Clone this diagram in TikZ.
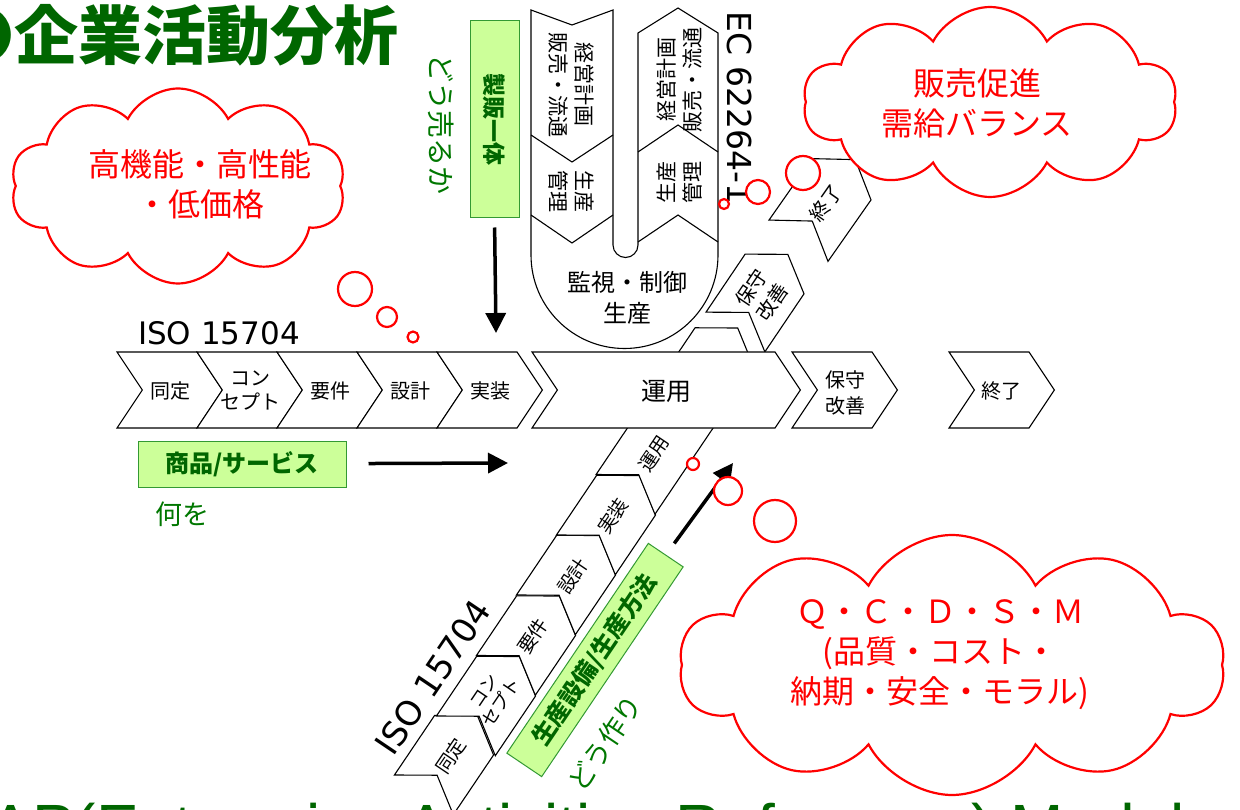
\documentclass[tikz,border=0pt]{standalone}
\usepackage{fontspec}
\setmainfont{Noto Sans CJK JP}
\newfontfamily\dejavu{DejaVu Sans}
\newfontfamily\arialf{Liberation Sans}
\usetikzlibrary{shapes.symbols,arrows.meta}
\definecolor{dkgreen}{HTML}{006600}
\definecolor{txtgreen}{HTML}{007700}
\definecolor{boxfill}{HTML}{CCFF99}
\definecolor{boxedge}{HTML}{339933}
\definecolor{cloudred}{HTML}{FF0000}
\newcommand\fsz[2]{\fontsize{#1pt}{#2pt}\selectfont}
% chevron: cx, cy, angle, L, H
\newcommand\chevshape[5]{%
  \begin{scope}[shift={(#1,#2)},rotate=#3]
    \path[chevline] (-#4/2,-#5/2) -- (#4/2,-#5/2) -- (#4/2+#5/3,0) -- (#4/2,#5/2) -- (-#4/2,#5/2) -- (-#4/2+#5/3,0) -- cycle;
  \end{scope}}
\begin{document}
\begin{tikzpicture}[x=1pt,y=-1pt,
  chevline/.style={draw=black, line width=1.1pt, fill=white},
  chevtext/.style={font=\fsz{20}{25}, align=center, inner sep=0},
  smalltext/.style={font=\fsz{19}{22}, align=center, inner sep=0},
  utext/.style={font=\fsz{21}{26}, align=center, inner sep=0},
  greenbox/.style={draw=boxedge, fill=boxfill, line width=1pt, text=dkgreen, inner sep=0},
  greenword/.style={text=txtgreen, inner sep=0},
  bigarrow/.style={line width=3.5pt, -{Triangle[length=20pt,width=20pt]}},
  cloudshape/.style={cloud, cloud puffs=10, cloud puff arc=125, cloud ignores aspect, draw=cloudred, line width=2.2pt, fill=white, inner sep=0},
  cloudtext/.style={text=cloudred, font=\fsz{32}{40}, align=center, inner sep=0},
  bubble/.style={circle, draw=cloudred, line width=2.2pt, fill=white, inner sep=0}]
\useasboundingbox (0,0) rectangle (1240,810);
\clip (0,0) rectangle (1240,810);

% ---- rotated ISO 15704 chain (behind main bar)
\chevshape{444}{765}{56}{72}{71}
\chevshape{486}{706}{56}{72}{71}
\chevshape{526}{645.5}{56}{72}{71}
\chevshape{566}{585}{56}{72}{71}
\chevshape{606}{525}{56}{72}{71}
\chevshape{675}{421}{56}{177}{71}
\node[smalltext, rotate=56] (r1) at (451,756) {同定};
\node[smalltext, rotate=56, font=\fsz{18}{21}] (r2) at (493,697) {コン\\セプト};
\node[smalltext, rotate=56] (r3) at (533,636) {要件};
\node[smalltext, rotate=56] (r4) at (573,576) {設計};
\node[smalltext, rotate=56] (r5) at (613,516) {実装};
\node[smalltext, rotate=56] (r6) at (654,454) {運用};
\node[font=\dejavu\fsz{34}{40}, rotate=56, inner sep=0] (iso2) at (433,677) {ISO 15704};

% ---- rotated maintenance / end
\chevshape{755}{303}{56}{70}{71}
\node[chevtext, rotate=56] (rm) at (762,295) {保守\\改善};
\chevshape{820}{210}{55}{75}{72}
\node[chevtext, rotate=55] (re) at (826,203) {終了};

% ---- main horizontal chain
\chevshape{157}{390}{0}{80}{76}
\chevshape{237}{390}{0}{80}{76}
\chevshape{317}{390}{0}{80}{76}
\chevshape{397}{390}{0}{80}{76}
\chevshape{477}{390}{0}{80}{76}
\chevshape{653.5}{390}{0}{243}{76}
\chevshape{832}{390}{0}{80}{76}
\chevshape{989}{390}{0}{80}{76}
\node[chevtext] (m1) at (170,391) {同定};
\node[chevtext, font=\fsz{20}{24}] (m2) at (250,391) {コン\\セプト};
\node[chevtext] (m3) at (330,391) {要件};
\node[chevtext] (m4) at (410,391) {設計};
\node[chevtext] (m5) at (490,391) {実装};
\node[chevtext, font=\fsz{25}{30}] (m6) at (666,391) {運用};
\node[chevtext, font=\fsz{20}{26}] (m7) at (845,393) {保守\\改善};
\node[chevtext] (m8) at (1001,391) {終了};
\node[font=\dejavu\fsz{31}{36}, inner sep=0] (iso1) at (219,333) {ISO 15704};

% ---- IEC 62264-1 U shape
\path[chevline] (531,10) -- (531,255) arc[start angle=180, end angle=0, radius=93.5]
  -- (718,33) -- (678,8) -- (638,33) -- (638,245) arc[start angle=0, end angle=180, radius=12.5]
  -- (613,10) -- (572,25) -- cycle;
\draw[line width=1.1pt] (531,135) -- (572,162) -- (613,135);
\draw[line width=1.1pt] (531,215) -- (572,243) -- (613,215);
\draw[line width=1.1pt] (638,152) -- (678,125) -- (718,152);
\draw[line width=1.1pt] (638,242) -- (678,215) -- (718,242);
\node[utext, rotate=-90] (ukeiL) at (571,85) {経営計画\\販売・流通};
\node[utext, rotate=-90] (useiL) at (571,192) {生産\\管理};
\node[utext, rotate=90] (ukeiR) at (680,80) {経営計画\\販売・流通};
\node[utext, rotate=90] (useiR) at (680,183) {生産\\管理};
\node[font=\fsz{24}{31}, align=center, inner sep=0] (kanshi) at (627,298) {監視・制御\\生産};
\node[font=\dejavu\fsz{33}{40}, rotate=-90, inner sep=0] (iec) at (740,108) {EC 62264-1};

% ---- green boxes, words and arrows
\node[greenbox, font=\fsz{23}{28}\bfseries, rotate=-90, minimum width=197pt, minimum height=49pt] (seihan) at (494.5,119.5) {製販一体};
\node[greenword, font=\fsz{28}{32}, rotate=-90] (dou1) at (441,125) {どう売るか};
\coordinate (a2e) at (496,333);
\draw[bigarrow, shorten <=9pt] (seihan.east) -- (a2e);

\node[greenbox, font=\fsz{24}{28}\bfseries, minimum width=208pt, minimum height=46pt] (shohin) at (242,464) {商品/サービス};
\node[greenword, font=\fsz{27}{30}] (nani) at (182,514) {何を};
\coordinate (a1e) at (508,463);
\draw[bigarrow, shorten <=22pt] (shohin) -- (a1e);

\node[greenbox, font=\fsz{24}{30}\bfseries, rotate=56, minimum width=253pt, minimum height=42pt] (setsubi) at (595,660) {生産設備/生産方法};
\node[greenword, font=\fsz{27}{30}, rotate=56] (dou2) at (605,743) {どう作り};
\coordinate (a3e) at (733,463);
\draw[bigarrow, shorten <=14pt] (setsubi.east) -- (a3e);

% ---- clouds
\node[cloudshape, minimum width=335pt, minimum height=195pt] (c1) at (178,186) {};
\node[cloudtext] (c1t) at (200,184) {高機能・高性能\\・低価格};
\node[bubble, minimum size=34pt] (b11) at (355,289) {};
\node[bubble, minimum size=20pt] (b12) at (387,317) {};
\node[bubble, minimum size=11pt] (b13) at (413,337) {};

\node[cloudshape, minimum width=374pt, minimum height=190pt] (c2) at (990,102) {};
\node[cloudtext] (c2t) at (977,103) {販売促進\\需給バランス};
\node[bubble, minimum size=10pt] (b21) at (724,204) {};
\node[bubble, minimum size=24pt] (b22) at (758,192) {};
\node[bubble, minimum size=34pt] (b23) at (803,173) {};

\node[cloudshape, minimum width=545pt, minimum height=260pt] (c3) at (952,665) {};
\node[cloudtext] (c3t) at (940,655) {Ｑ・Ｃ・Ｄ・Ｓ・Ｍ\\(品質・コスト・\\納期・安全・モラル)};
\node[bubble, minimum size=12pt] (b31) at (693,464) {};
\node[bubble, minimum size=28pt] (b32) at (728,491) {};
\node[bubble, minimum size=42pt] (b33) at (775,521) {};

% ---- title and bottom caption
\node[anchor=west, inner sep=0, font=\fsz{64}{70}\bfseries, text=dkgreen] (title) at (-50,35) {●企業活動分析};
\node[anchor=base west, inner sep=0, font=\arialf\fsz{64}{70}, text=dkgreen] (eap) at (-10.7,849) {AP(Enterprise Activities Reference) Model};
\end{tikzpicture}
\end{document}
